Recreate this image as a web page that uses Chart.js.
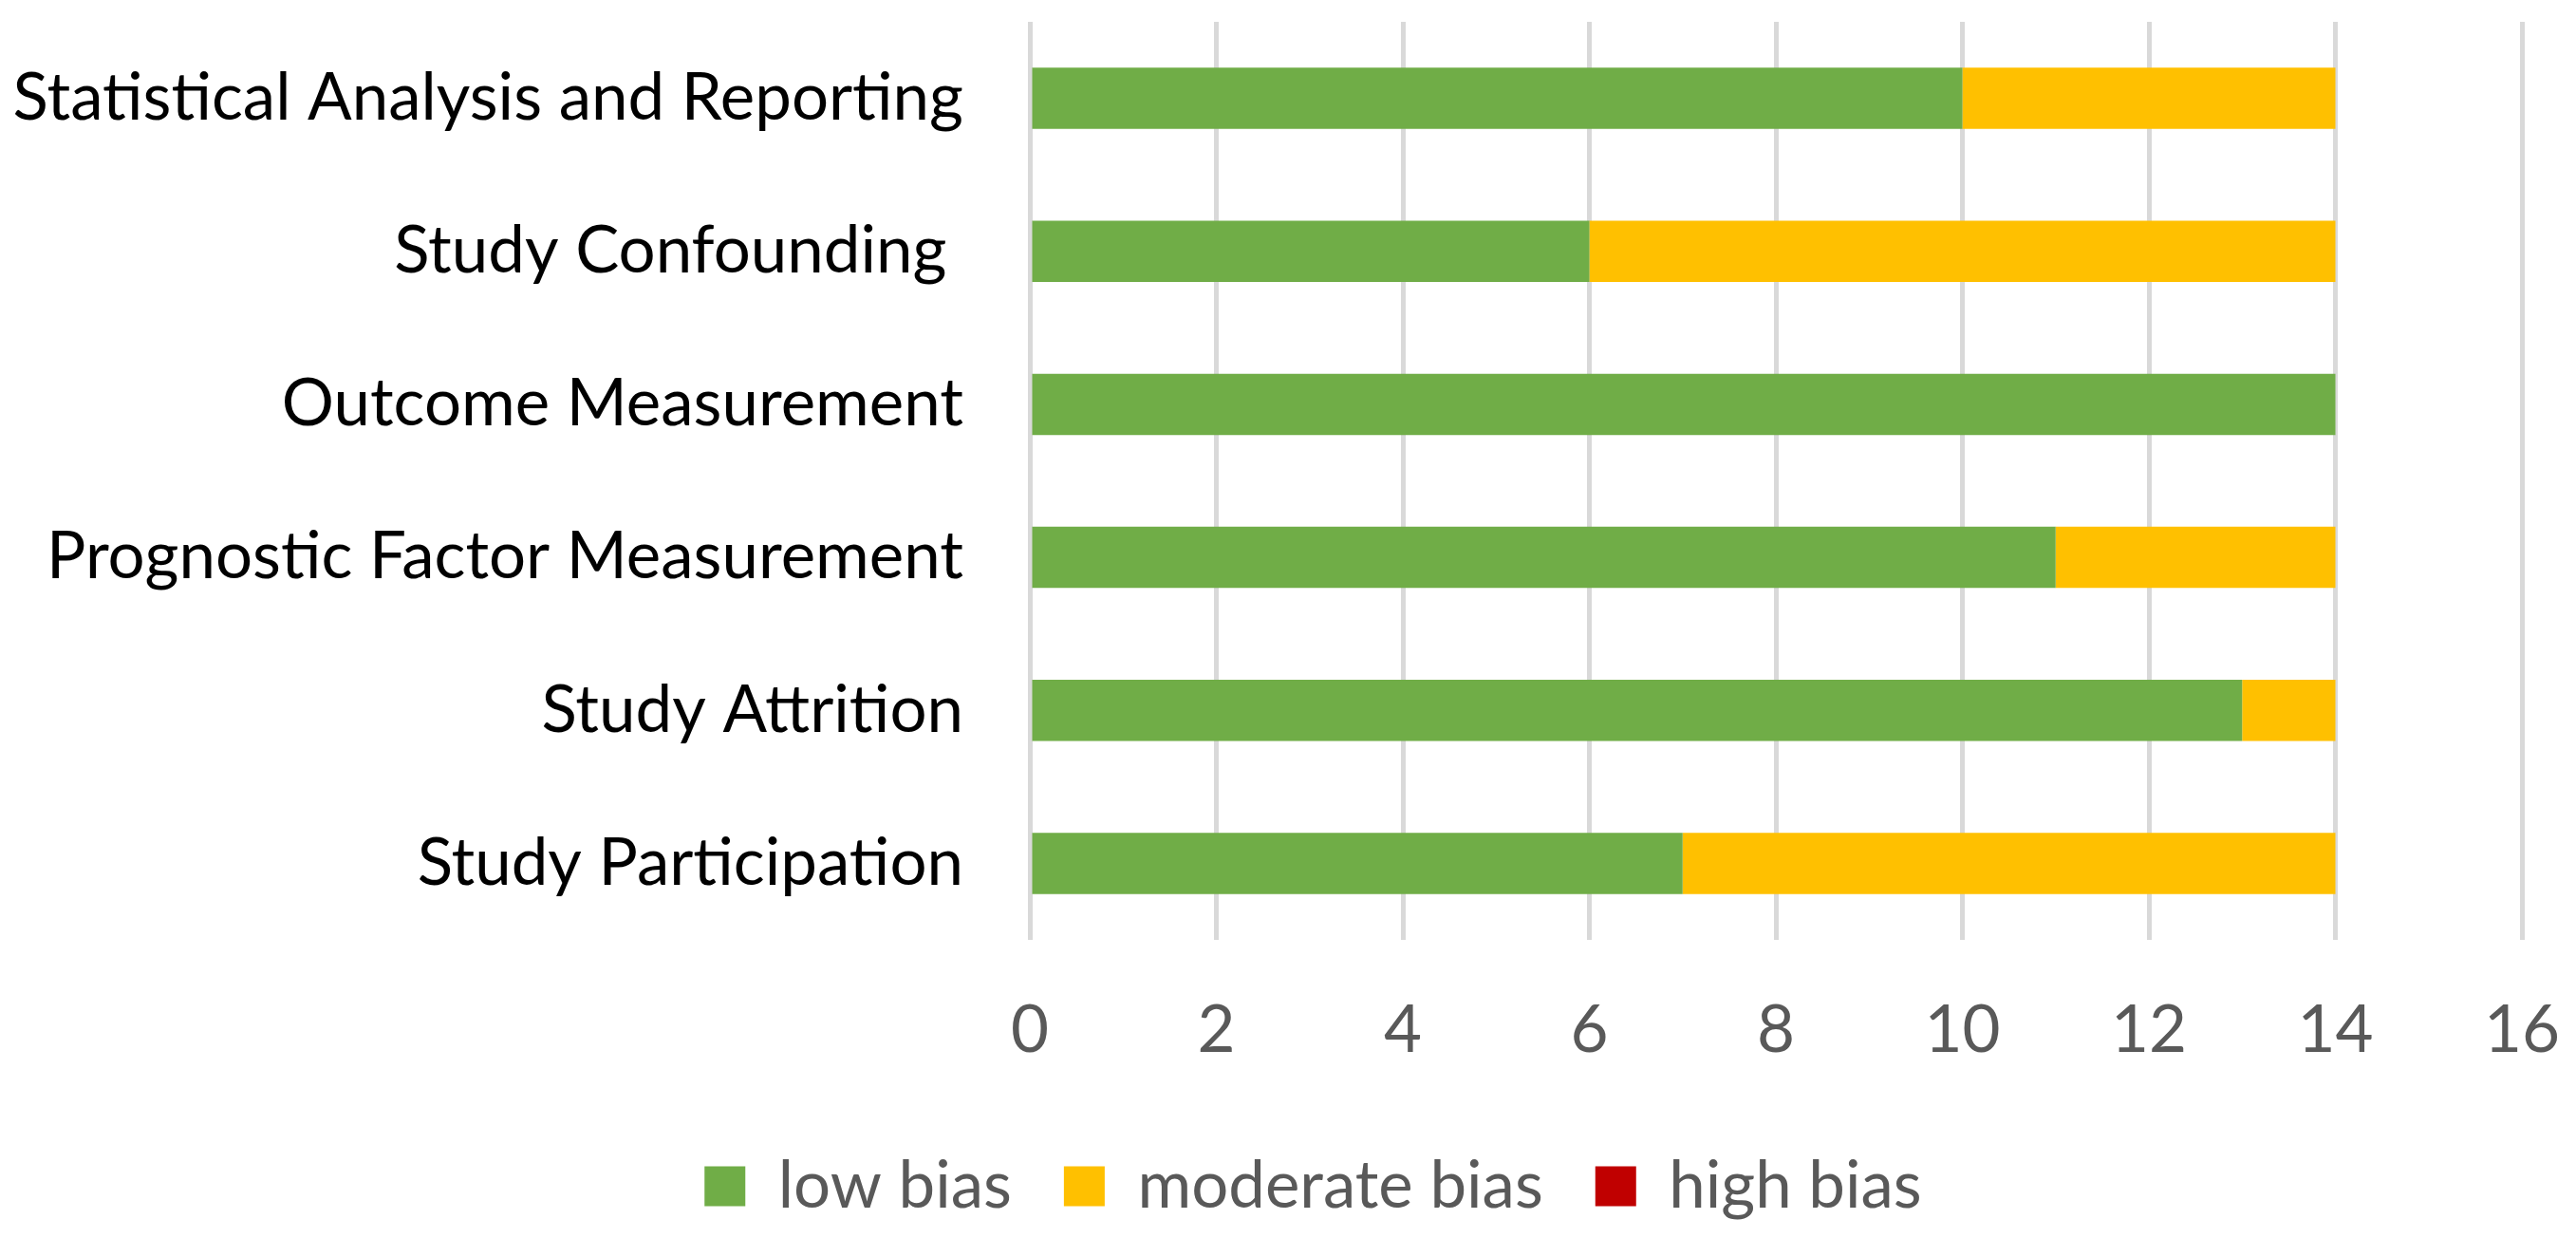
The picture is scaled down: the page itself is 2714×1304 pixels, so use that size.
<!DOCTYPE html>
<html>
<head>
<meta charset="utf-8">
<script src="https://cdn.jsdelivr.net/npm/chart.js@4.4.1/dist/chart.umd.min.js"></script>
<style>
  html, body { margin: 0; padding: 0; background: #ffffff; }
  #wrap { width: 2714px; height: 1304px; }
</style>
</head>
<body>
<div id="wrap"><canvas id="c" width="2714" height="1304"></canvas></div>
<script>
const categories = [
  "Statistical Analysis and Reporting",
  "Study Confounding ",
  "Outcome Measurement",
  "Prognostic Factor Measurement",
  "Study Attrition",
  "Study Participation"
];
const lowBias = [10, 6, 14, 11, 13, 7];
const moderateBias = [4, 8, 0, 3, 1, 7];
const highBias = [0, 0, 0, 0, 0, 0];
const seriesNames = ["low bias", "moderate bias", "high bias"];
const xMin = 0, xMax = 16, xStep = 2;

const FONT = "Lato, 'Open Sans', sans-serif";
const FS = 69;
const LEGEND_SHIFT = 55;

const legendShift = {
  id: 'legendShift',
  afterLayout(chart) {
    if (chart.legend) {
      chart.legend.left += LEGEND_SHIFT;
      chart.legend.right += LEGEND_SHIFT;
    }
  }
};

new Chart(document.getElementById('c'), {
  type: 'bar',
  data: {
    labels: categories,
    datasets: [
      { label: seriesNames[0], data: lowBias, backgroundColor: '#70AD47' },
      { label: seriesNames[1], data: moderateBias, backgroundColor: '#FFC000' },
      { label: seriesNames[2], data: highBias, backgroundColor: '#C00000' }
    ]
  },
  plugins: [legendShift],
  options: {
    indexAxis: 'y',
    responsive: false,
    animation: false,
    devicePixelRatio: 1,
    datasets: { bar: { categoryPercentage: 1.0, barPercentage: 0.4, borderWidth: 0 } },
    layout: { padding: { top: 23, right: 57, bottom: 10, left: 0 } },
    scales: {
      x: {
        stacked: true,
        min: xMin, max: xMax,
        ticks: { stepSize: xStep, color: '#595959', font: { family: FONT, size: FS }, padding: 54 },
        grid: { color: '#D9D9D9', lineWidth: 5, drawTicks: false },
        border: { display: false },
        afterFit: (s) => { s.height = 170; s.paddingLeft = 0; s.paddingRight = 0; }
      },
      y: {
        stacked: true,
        ticks: { color: '#000000', font: { family: FONT, size: FS }, padding: 70 },
        grid: { display: false, drawTicks: false },
        border: { display: false },
        afterFit: (s) => { s.width = 1085; s.paddingTop = 0; s.paddingBottom = 0; }
      }
    },
    plugins: {
      tooltip: { enabled: false },
      legend: {
        position: 'bottom',
        align: 'center',
        labels: {
          boxWidth: 43, boxHeight: 42,
          color: '#595959',
          font: { family: FONT, size: FS },
          padding: 55
        }
      }
    }
  }
});
</script>
</body>
</html>
